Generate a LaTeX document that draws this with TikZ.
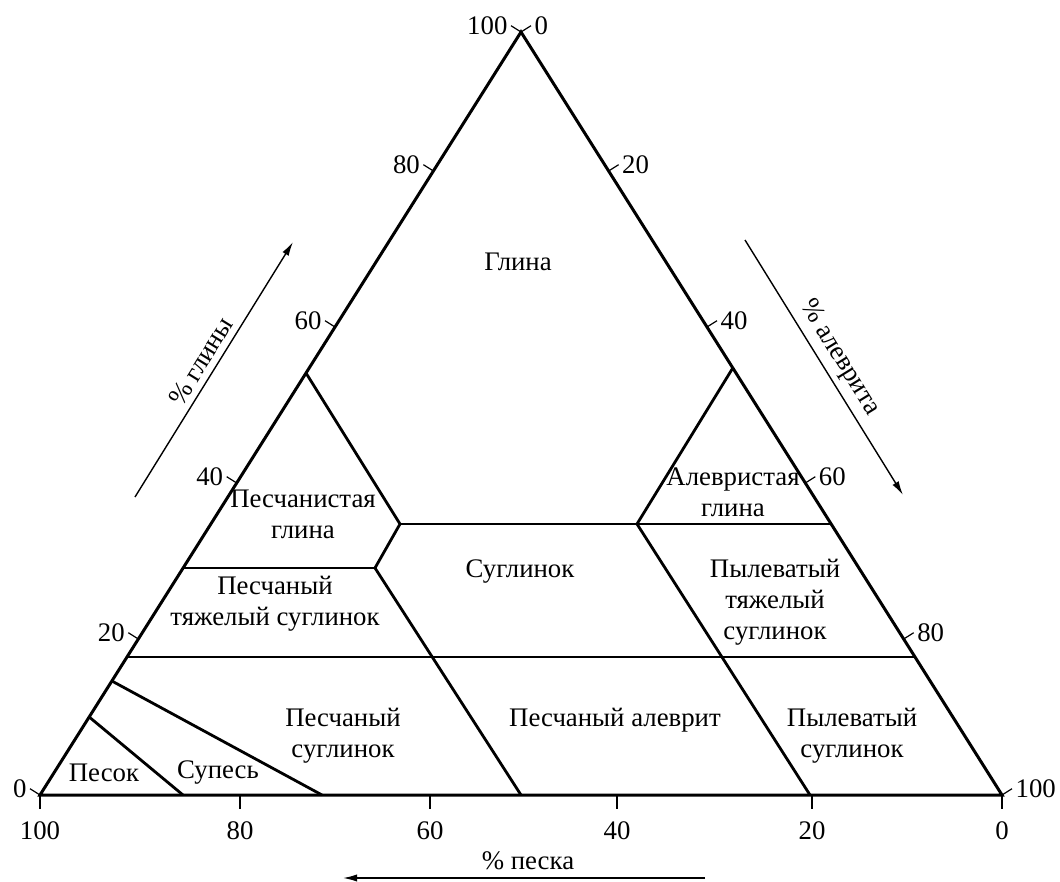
\documentclass[tikz,border=0pt]{standalone}
\usepackage{fontspec}
\setmainfont{Liberation Serif}
\usetikzlibrary{arrows.meta,calc}
\begin{document}
\begin{tikzpicture}[x=0.5pt,y=-0.5pt,
  every node/.style={font=\fontsize{13.4}{15.5}\selectfont, inner sep=0pt, align=center},
  border/.style={line width=1.5pt, line join=miter},
  zone/.style={line width=1.4pt, line join=miter},
  tickmark/.style={line width=0.6pt},
  axisarrow/.style={line width=0.7pt, -{Latex[length=7pt,width=3.6pt]}}]
\useasboundingbox (0,0) rectangle (1060,882);
% corners
\coordinate (A) at (40,795);
\coordinate (B) at (1002,795);
\coordinate (C) at (521,32);
% zone junctions
\coordinate (L657) at (127,657);
\coordinate (R657) at (915,657);
\coordinate (L568) at (183.1,568);
\coordinate (J2) at (375,568);
\coordinate (J1) at (400,524);
\coordinate (R524) at (831.2,524);
\coordinate (L373) at (306,373);
\coordinate (J3) at (637,524);
\coordinate (R368) at (732.8,368);
\coordinate (B50) at (521,795);
\coordinate (B20) at (810,795);
\coordinate (L681) at (111.9,681);
\coordinate (B72) at (322,795);
\coordinate (L717) at (89.2,717);
\coordinate (B86) at (183,795);
% zone lines
\draw[zone] (L657) -- (R657);
\draw[zone] (L568) -- (J2);
\draw[zone] (J1) -- (R524);
\draw[zone] (L373) -- (J1) -- (J2) -- (B50);
\draw[zone] (R368) -- (J3) -- (B20);
\draw[zone] (L681) -- (B72);
\draw[zone] (L717) -- (B86);
% outer triangle
\draw[border] (A) -- (B) -- (C) -- cycle;
% left axis ticks (clay)
\foreach \px/\py/\lab in {40/795/0, 138.3/639/20, 236.7/483/40, 335/327/60, 433.4/171/80, 521/32/100}{
  \draw[tickmark] (\px,\py) -- ++(-10,-6.3) node[anchor=east, xshift=-1.5pt] (cl\lab) {\lab};
}
% right axis ticks (silt)
\foreach \px/\py/\lab in {521/32/0, 608.6/171/20, 707/327/40, 805.3/483/60, 903.7/639/80, 1002/795/100}{
  \draw[tickmark] (\px,\py) -- ++(10,-6.3) node[anchor=west, xshift=1.5pt] (si\lab) {\lab};
}
% bottom axis ticks (sand)
\foreach \px/\lab in {40/100, 240/80, 430/60, 617/40, 812/20, 1002/0}{
  \draw[tickmark] (\px,795) -- (\px,809);
  \node (sa\lab) at (\px,831) {\lab};
}
% axis arrows
\coordinate (ga) at (135,497);
\coordinate (gb) at (293,242);
\draw[axisarrow] (ga) -- node[sloped, above=3pt] (tclay) {\% глины} (gb);
\coordinate (aa) at (745,240);
\coordinate (ab) at (903,495);
\draw[axisarrow] (aa) -- node[sloped, above=3pt] (tsilt) {\% алеврита} (ab);
\coordinate (pa) at (705,878);
\coordinate (pb) at (343,878);
\draw[axisarrow] (pa) -- (pb);
\node (tsand) at (528,861) {\% песка};
% zone labels
\node (glina) at (518,262) {Глина};
\node (pglina) at (303,514) {Песчанистая\\глина};
\node (ptyazh) at (275,604) {Песчаный\\тяжелый суглинок};
\node (sugl) at (520,572) {Суглинок};
\node (aglina) at (733,492) {Алевристая\\глина};
\node (pyltyazh) at (775,602) {Пылеватый\\тяжелый\\суглинок};
\node (psugl) at (343,736) {Песчаный\\суглинок};
\node (palev) at (615,720) {Песчаный алеврит};
\node (pylsugl) at (852,736) {Пылеватый\\суглинок};
\node (pesok) at (104,773) {Песок};
\node (supes) at (218,773) {Супесь};
\end{tikzpicture}
\end{document}
